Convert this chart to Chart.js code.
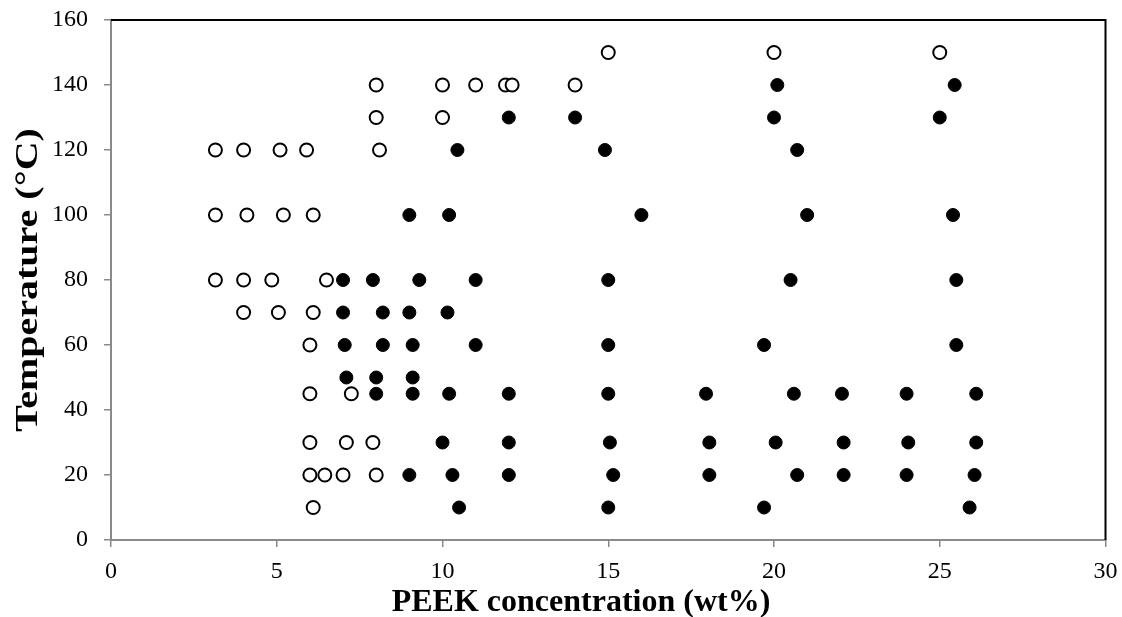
<!DOCTYPE html>
<html>
<head>
<meta charset="utf-8">
<script src="https://cdn.jsdelivr.net/npm/chart.js@4"></script>
<style>
  html, body { margin: 0; padding: 0; background: #fff; overflow: hidden; }
  #wrap { width: 1122px; height: 617px; }
</style>
</head>
<body>
<div id="wrap"><canvas id="chart" width="1122" height="617"></canvas></div>
<script>
// Hollow markers: PEEK loading (wt%) and the temperature row (°C) it sits on
const openConc = [
  15.0, 20.0, 25.0,
  8.0, 10.0, 11.0, 11.9, 12.1, 14.0,
  8.0, 10.0,
  3.15, 4.0, 5.1, 5.9, 8.1,
  3.15, 4.1, 5.2, 6.1,
  3.15, 4.0, 4.85, 6.5,
  4.0, 5.05, 6.1,
  6.0,
  6.0, 7.25,
  6.0, 7.1, 7.9,
  6.0, 6.45, 7.0, 8.0,
  6.1
];
const openTemp = [
  150, 150, 150,
  140, 140, 140, 140, 140, 140,
  130, 130,
  120, 120, 120, 120, 120,
  100, 100, 100, 100,
  80, 80, 80, 80,
  70, 70, 70,
  60,
  45, 45,
  30, 30, 30,
  20, 20, 20, 20,
  10
];

// Solid markers
const solidConc = [
  20.1, 25.45,
  12.0, 14.0, 20.0, 25.0,
  10.45, 14.9, 20.7,
  9.0, 10.2, 16.0, 21.0, 25.4,
  7.0, 7.9, 9.3, 11.0, 15.0, 20.5, 25.5,
  7.0, 8.2, 9.0, 10.15,
  7.05, 8.2, 9.1, 11.0, 15.0, 19.7, 25.5,
  7.1, 8.0, 9.1,
  8.0, 9.1, 10.2, 12.0, 15.0, 17.95, 20.6, 22.05, 24.0, 26.1,
  10.0, 12.0, 15.05, 18.05, 20.05, 22.1, 24.05, 26.1,
  9.0, 10.3, 12.0, 15.15, 18.05, 20.7, 22.1, 24.0, 26.05,
  10.5, 15.0, 19.7, 25.9
];
const solidTemp = [
  140, 140,
  130, 130, 130, 130,
  120, 120, 120,
  100, 100, 100, 100, 100,
  80, 80, 80, 80, 80, 80, 80,
  70, 70, 70, 70,
  60, 60, 60, 60, 60, 60, 60,
  50, 50, 50,
  45, 45, 45, 45, 45, 45, 45, 45, 45, 45,
  30, 30, 30, 30, 30, 30, 30, 30,
  20, 20, 20, 20, 20, 20, 20, 20, 20,
  10, 10, 10, 10
];

const xRange = [0, 30];
const yRange = [0, 160];
const xStep = 5;
const yStep = 20;

const xTitle = "PEEK concentration (wt%)";
const yTitle = "Temperature (°C)";

const serif = "'Liberation Serif', 'Times New Roman', serif";
const axisGrey = "#8a8a8a";

function toPoints(xs, ys) {
  return xs.map((x, i) => ({ x: x, y: ys[i] }));
}

// black frame on top/right plus the two axis titles
const framePlugin = {
  id: "frameAndTitles",
  afterDraw(chart) {
    const { ctx, chartArea } = chart;
    ctx.save();
    ctx.strokeStyle = "#000";
    ctx.lineWidth = 2;
    ctx.beginPath();
    ctx.moveTo(chartArea.left, chartArea.top);
    ctx.lineTo(chartArea.right, chartArea.top);
    ctx.lineTo(chartArea.right, chartArea.bottom);
    ctx.stroke();

    ctx.fillStyle = "#000";
    ctx.font = "bold 32px " + serif;
    ctx.textAlign = "center";
    ctx.textBaseline = "alphabetic";
    ctx.fillText(xTitle, 581, 611);

    // the vertical title runs longer than its glyph height suggests
    ctx.translate(37, (chartArea.top + chartArea.bottom) / 2);
    ctx.rotate(-Math.PI / 2);
    ctx.scale(1.25, 1);
    ctx.fillText(yTitle, 0, 0);
    ctx.restore();
  }
};

const tickFont = { family: serif, size: 24 };

new Chart(document.getElementById("chart"), {
  type: "scatter",
  data: {
    datasets: [
      {
        label: "solid",
        data: toPoints(solidConc, solidTemp),
        backgroundColor: "#000",
        borderColor: "#000",
        borderWidth: 1,
        pointRadius: 6.5,
        order: 0
      },
      {
        label: "open",
        data: toPoints(openConc, openTemp),
        backgroundColor: "#fff",
        borderColor: "#000",
        borderWidth: 2,
        pointRadius: 6.5,
        order: 1
      }
    ]
  },
  options: {
    responsive: false,
    animation: false,
    layout: {
      padding: { top: 20, right: 16.5, left: 0, bottom: 0 }
    },
    plugins: {
      legend: { display: false },
      tooltip: { enabled: false }
    },
    scales: {
      x: {
        type: "linear",
        min: xRange[0],
        max: xRange[1],
        ticks: {
          stepSize: xStep,
          color: "#000",
          font: tickFont,
          padding: 10,
          maxRotation: 0
        },
        grid: {
          drawOnChartArea: false,
          drawTicks: true,
          tickLength: 7,
          color: axisGrey,
          lineWidth: 1.5
        },
        border: { color: axisGrey, width: 2 },
        afterFit(scale) {
          scale.height = 77;
          scale.paddingLeft = 0;
          scale.paddingRight = 0;
        }
      },
      y: {
        type: "linear",
        min: yRange[0],
        max: yRange[1],
        ticks: {
          stepSize: yStep,
          color: "#000",
          font: tickFont,
          padding: 16
        },
        grid: {
          drawOnChartArea: false,
          drawTicks: true,
          tickLength: 7,
          color: axisGrey,
          lineWidth: 1.5
        },
        border: { color: axisGrey, width: 2 },
        afterFit(scale) {
          scale.width = 111;
          scale.paddingTop = 0;
          scale.paddingBottom = 0;
        }
      }
    }
  },
  plugins: [framePlugin]
});
</script>
</body>
</html>
